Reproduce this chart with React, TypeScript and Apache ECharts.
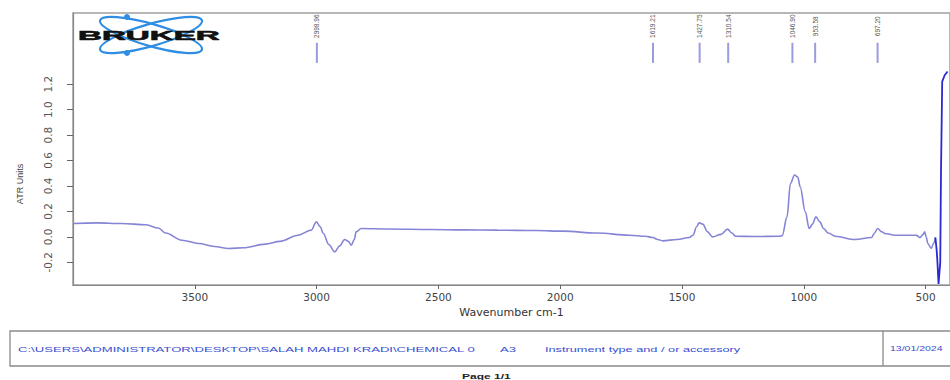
import React, { useEffect, useRef } from "react";
import * as echarts from "echarts";

// Spectrum (wavenumber cm-1, ATR units)
const wavenumbers = [
  4000, 3900, 3800, 3700, 3650, 3620, 3553, 3484, 3420, 3361, 3300, 3211, 3150, 3076, 3022,
  3001, 2985, 2973, 2950, 2926, 2905, 2885, 2870, 2858, 2845, 2838, 2817, 2700, 2533, 2400,
  2259, 2100, 1987, 1850, 1716, 1650, 1620, 1600, 1579, 1520, 1470, 1455, 1440, 1430, 1415,
  1395, 1375, 1340, 1313, 1295, 1280, 1200, 1100, 1089, 1069, 1055, 1038, 1025, 1015, 994,
  978, 965, 950, 935, 919, 900, 871, 790, 722, 710, 697, 680, 667, 627, 538, 524, 510, 504,
  498, 491, 477, 467, 460, 455, 452, 447, 440, 437, 432, 422, 410,
];
const absorbance = [
  0.105, 0.11, 0.105, 0.095, 0.07, 0.03, -0.026, -0.052, -0.075, -0.091, -0.085, -0.057,
  -0.035, 0.013, 0.053, 0.118, 0.08, 0.029, -0.06, -0.118, -0.07, -0.02, -0.035, -0.065,
  -0.02, 0.039, 0.066, 0.062, 0.058, 0.055, 0.053, 0.05, 0.045, 0.03, 0.013, 0.005, -0.005,
  -0.02, -0.031, -0.02, -0.005, 0.013, 0.08, 0.11, 0.1, 0.039, 0.0, 0.02, 0.061, 0.03, 0.005,
  0.003, 0.005, 0.01, 0.157, 0.42, 0.486, 0.47, 0.394, 0.197, 0.066, 0.1, 0.157, 0.12, 0.066,
  0.03, 0.005, -0.021, -0.005, 0.03, 0.066, 0.04, 0.027, 0.013, 0.013, -0.005, 0.02, 0.039,
  0.0, -0.052, -0.091, -0.05, -0.005, -0.1, -0.183, -0.37, -0.2, 0.5, 1.22, 1.27, 1.3,
];
// below this wavenumber the trace is drawn in the darker blue
const darkTraceBelow = 460;

// Peak picks
const peakPositions = [2998.96, 1619.21, 1427.75, 1310.54, 1046.9, 953.58, 697.2];
const peakLabels = ["2998.96", "1619.21", "1427.75", "1310.54", "1046.90", "953.58", "697.20"];

// Axis ticks
const xTickValues = [3500, 3000, 2500, 2000, 1500, 1000, 500];
const yTickValues = [-0.2, 0.0, 0.2, 0.4, 0.6, 0.8, 1.0, 1.2];

// Texts
const xAxisTitle = "Wavenumber cm-1";
const yAxisTitle = "ATR Units";
const logoText = "BRUKER";
const footerPath = "C:\\USERS\\ADMINISTRATOR\\DESKTOP\\SALAH MAHDI KRADI\\CHEMICAL 0";
const footerCode = "A3";
const footerInstrument = "Instrument type and / or accessory";
const footerDate = "13/01/2024";
const pageText = "Page 1/1";

export default function App() {
  const ref = useRef<HTMLDivElement>(null);

  useEffect(() => {
    document.body.style.margin = "0";
    if (!ref.current) return;
    const chart = echarts.init(ref.current, undefined, { renderer: "svg" });

    const spectrum = wavenumbers.map((w, i) => [w, absorbance[i]]);
    const mainTrace = spectrum.filter((p) => p[0] >= darkTraceBelow);
    const darkTrace = spectrum.filter((p) => p[0] <= darkTraceBelow);
    const peaks = peakPositions.map((p) => [p, 1.525, 1.367, 1.655]);
    const font = "'Liberation Sans', Arial, sans-serif";
    const logoBlue = "#2f8de4";
    const footerBlue = "#3a4fd0";

    chart.setOption({
      animation: false,
      backgroundColor: "#ffffff",
      grid: {
        left: 73,
        right: -6,
        top: 13,
        bottom: 95,
        show: true,
        borderColor: "#a0a0a0",
        borderWidth: 1.5,
      },
      xAxis: {
        type: "value",
        inverse: true,
        min: 400,
        max: 4000,
        name: xAxisTitle,
        nameLocation: "middle",
        nameGap: 22,
        nameTextStyle: { fontFamily: "DejaVu Sans", fontSize: 11, color: "#333" },
        axisLine: { show: true, onZero: false, lineStyle: { color: "#888", width: 1.2 } },
        axisTick: { show: true, customValues: xTickValues, length: 4, lineStyle: { color: "#666" } },
        axisLabel: {
          customValues: xTickValues,
          fontFamily: "DejaVu Sans",
          fontSize: 10.5,
          color: "#444",
          margin: 6,
          formatter: (v: number) => String(v),
        },
        splitLine: { show: false },
      },
      yAxis: {
        type: "value",
        min: -0.378,
        max: 1.759,
        axisLine: { show: true, onZero: false, lineStyle: { color: "#888", width: 1.2 } },
        axisTick: { show: true, customValues: yTickValues, length: 6, lineStyle: { color: "#666" } },
        axisLabel: {
          customValues: yTickValues,
          rotate: 90,
          fontFamily: "DejaVu Sans",
          fontSize: 10.5,
          color: "#555",
          margin: 20,
          formatter: (v: number) => v.toFixed(1),
        },
        splitLine: { show: false },
      },
      series: [
        {
          type: "line",
          data: mainTrace,
          showSymbol: false,
          symbol: "none",
          smooth: 0.35,
          smoothMonotone: "x",
          lineStyle: { width: 1.6, color: "#8585d6" },
          itemStyle: { color: "#8585d6" },
          clip: true,
        },
        {
          type: "line",
          data: darkTrace,
          showSymbol: false,
          symbol: "none",
          lineStyle: { width: 1.8, color: "#2a2ad2" },
          itemStyle: { color: "#2a2ad2" },
          clip: true,
        },
        {
          type: "custom",
          data: peaks,
          clip: false,
          encode: { x: 0, y: 1 },
          renderItem: (params: any, api: any) => {
            const x = api.value(0);
            const top = api.coord([x, api.value(1)]);
            const bot = api.coord([x, api.value(2)]);
            const lab = api.coord([x, api.value(3)]);
            return {
              type: "group",
              children: [
                {
                  type: "line",
                  shape: { x1: top[0], y1: top[1], x2: bot[0], y2: bot[1] },
                  style: { stroke: "#9b9be0", lineWidth: 2 },
                },
                {
                  type: "text",
                  x: lab[0],
                  y: lab[1],
                  rotation: Math.PI / 2,
                  style: {
                    text: peakLabels[params.dataIndex],
                    fontFamily: font,
                    fontSize: 6.5,
                    fill: "#555",
                    align: "center",
                    verticalAlign: "middle",
                  },
                },
              ],
            };
          },
        },
      ],
      graphic: [
        // Bruker logo
        {
          type: "ellipse",
          x: 151,
          y: 35,
          rotation: -0.28,
          shape: { cx: 0, cy: 0, rx: 53, ry: 11 },
          style: { fill: "none", stroke: logoBlue, lineWidth: 2.2 },
          z: 10,
        },
        {
          type: "ellipse",
          x: 151,
          y: 35,
          rotation: 0.28,
          shape: { cx: 0, cy: 0, rx: 53, ry: 11 },
          style: { fill: "none", stroke: logoBlue, lineWidth: 2.2 },
          z: 10,
        },
        { type: "circle", shape: { cx: 127, cy: 17, r: 3 }, style: { fill: logoBlue }, z: 11 },
        { type: "circle", shape: { cx: 127, cy: 53, r: 3 }, style: { fill: logoBlue }, z: 11 },
        {
          type: "text",
          x: 78,
          y: 35,
          scaleX: 2.55,
          z: 12,
          style: {
            text: logoText,
            fontFamily: font,
            fontWeight: 900,
            fontSize: 13,
            fill: "#111",
            stroke: "#111",
            lineWidth: 0.6,
            align: "left",
            verticalAlign: "middle",
          },
        },
        // Y axis title
        {
          type: "text",
          x: 20,
          y: 184,
          rotation: Math.PI / 2,
          style: {
            text: yAxisTitle,
            fontFamily: font,
            fontSize: 9,
            fill: "#444",
            align: "center",
            verticalAlign: "middle",
          },
        },
        // Footer box
        {
          type: "rect",
          shape: { x: 10, y: 331, width: 960, height: 35 },
          style: { fill: "none", stroke: "#8a8a8a", lineWidth: 1.3 },
        },
        {
          type: "line",
          shape: { x1: 883, y1: 331, x2: 883, y2: 366 },
          style: { stroke: "#8a8a8a", lineWidth: 1.3 },
        },
        {
          type: "text",
          x: 18,
          y: 349,
          scaleX: 1.75,
          style: { text: footerPath, fontFamily: font, fontSize: 7.5, fill: footerBlue, verticalAlign: "middle" },
        },
        {
          type: "text",
          x: 500,
          y: 349,
          scaleX: 1.75,
          style: { text: footerCode, fontFamily: font, fontSize: 7.5, fill: footerBlue, verticalAlign: "middle" },
        },
        {
          type: "text",
          x: 545,
          y: 349,
          scaleX: 1.7,
          style: { text: footerInstrument, fontFamily: font, fontSize: 7.5, fill: footerBlue, verticalAlign: "middle" },
        },
        {
          type: "text",
          x: 890,
          y: 349,
          scaleX: 1.4,
          style: { text: footerDate, fontFamily: font, fontSize: 7.5, fill: footerBlue, verticalAlign: "middle" },
        },
        {
          type: "text",
          x: 462,
          y: 376,
          scaleX: 1.5,
          style: { text: pageText, fontFamily: font, fontSize: 8, fontWeight: "bold", fill: "#222", verticalAlign: "middle" },
        },
      ],
    });

    return () => chart.dispose();
  }, []);

  return <div ref={ref} style={{ width: 950, height: 380 }} />;
}
